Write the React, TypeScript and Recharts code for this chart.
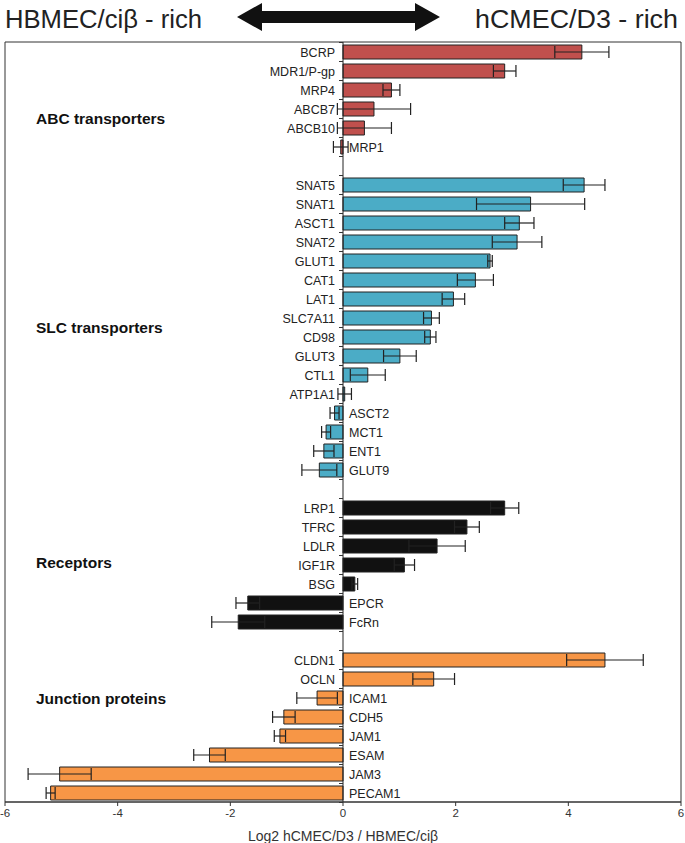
import React from "react";
import {
  BarChart,
  Bar,
  XAxis,
  YAxis,
  Cell,
  ErrorBar,
  LabelList,
  ReferenceLine,
  ReferenceArea,
} from "recharts";

// category order top -> bottom, blank entries are the gaps between groups
const names = [
  "BCRP", "MDR1/P-gp", "MRP4", "ABCB7", "ABCB10", "MRP1", " ",
  "SNAT5", "SNAT1", "ASCT1", "SNAT2", "GLUT1", "CAT1", "LAT1", "SLC7A11",
  "CD98", "GLUT3", "CTL1", "ATP1A1", "ASCT2", "MCT1", "ENT1", "GLUT9", "  ",
  "LRP1", "TFRC", "LDLR", "IGF1R", "BSG", "EPCR", "FcRn", "   ",
  "CLDN1", "OCLN", "ICAM1", "CDH5", "JAM1", "ESAM", "JAM3", "PECAM1",
];

const values = [
  4.24, 2.87, 0.86, 0.55, 0.38, -0.04, null,
  4.28, 3.33, 3.13, 3.09, 2.61, 2.35, 1.96, 1.57,
  1.55, 1.01, 0.44, 0.03, -0.15, -0.3, -0.34, -0.42, null,
  2.87, 2.2, 1.67, 1.09, 0.21, -1.69, -1.86, null,
  4.65, 1.61, -0.46, -1.05, -1.12, -2.37, -5.03, -5.19,
];

const errors = [
  0.48, 0.2, 0.15, 0.65, 0.48, 0.13, null,
  0.37, 0.96, 0.26, 0.44, 0.04, 0.32, 0.2, 0.14,
  0.1, 0.29, 0.31, 0.12, 0.08, 0.08, 0.18, 0.31, null,
  0.25, 0.22, 0.5, 0.18, 0.05, 0.21, 0.47, null,
  0.68, 0.37, 0.36, 0.2, 0.1, 0.28, 0.56, 0.08,
];

const groups = [
  "abc", "abc", "abc", "abc", "abc", "abc", "",
  "slc", "slc", "slc", "slc", "slc", "slc", "slc", "slc",
  "slc", "slc", "slc", "slc", "slc", "slc", "slc", "slc", "",
  "rec", "rec", "rec", "rec", "rec", "rec", "rec", "",
  "jun", "jun", "jun", "jun", "jun", "jun", "jun", "jun",
];

const groupColors: Record<string, string> = {
  abc: "#c0504d",
  slc: "#4bacc6",
  rec: "#111111",
  jun: "#f79646",
};

// group title, the category it sits next to, and its shift from that row
const groupTitles = [
  { title: "ABC transporters", at: "ABCB7", shift: 9.5 },
  { title: "SLC transporters", at: "SLC7A11", shift: 9.5 },
  { title: "Receptors", at: "IGF1R", shift: -2 },
  { title: "Junction proteins", at: "ICAM1", shift: 1 },
];

const xTicks = [-6, -4, -2, 0, 2, 4, 6];

const data = names.map((name, i) => ({
  name,
  value: values[i],
  err: errors[i],
  group: groups[i],
}));

const FONT = '"Liberation Sans", Arial, sans-serif';
const ROW = 19; // band height, used for the small ticks on the zero line

function NameLabel(props: any) {
  const { x, y, width, height, value } = props;
  const i = names.indexOf(value);
  const v = i >= 0 ? values[i] : null;
  if (v == null || !String(value).trim()) return null;
  const left = Math.min(x, x + width);
  const right = Math.max(x, x + width);
  const pos = v >= 0;
  const zero = pos ? left : right;
  const cy = y + height / 2;
  return (
    <g>
      <line x1={zero - 4} x2={zero} y1={cy - ROW / 2} y2={cy - ROW / 2} stroke="#333" />
      <line x1={zero - 4} x2={zero} y1={cy + ROW / 2} y2={cy + ROW / 2} stroke="#333" />
      <text
        x={pos ? zero - 8 : zero + 6}
        y={cy}
        dy="0.36em"
        textAnchor={pos ? "end" : "start"}
        fontSize={12.5}
        fontFamily={FONT}
        fill="#222"
      >
        {value}
      </text>
    </g>
  );
}

function GroupTitle(text: string, shift: number) {
  return (props: any) => {
    const vb = props.viewBox || {};
    return (
      <text
        x={(vb.x ?? 0) + 31}
        y={(vb.y ?? 0) + shift}
        dy="0.36em"
        fontSize={15.5}
        fontWeight="bold"
        fontFamily={FONT}
        fill="#111"
      >
        {text}
      </text>
    );
  };
}

function Header() {
  return (
    <svg width={685} height={40} style={{ position: "absolute", left: 0, top: 0 }}>
      <text x={5} y={28} fontSize={25} fontFamily={FONT} fill="#222" textLength={197} lengthAdjust="spacingAndGlyphs">
        HBMEC/ciβ - rich
      </text>
      <polygon
        points="237,17 262,3 262,11 415,11 415,3 440,17 415,31 415,23 262,23 262,31"
        fill="#111"
      />
      <text x={475} y={28} fontSize={25} fontFamily={FONT} fill="#222" textLength={203} lengthAdjust="spacingAndGlyphs">
        hCMEC/D3 - rich
      </text>
    </svg>
  );
}

export default function App() {
  return (
    <div style={{ position: "absolute", left: 0, top: 0, width: 685, height: 843, background: "#fff" }}>
      <Header />
      <BarChart
        layout="vertical"
        width={685}
        height={843}
        data={data}
        margin={{ top: 42, right: 4, left: 5, bottom: 0 }}
        barCategoryGap={2}
      >
        <XAxis
          type="number"
          domain={[-6, 6]}
          ticks={xTicks}
          tickSize={4}
          tickMargin={3}
          height={41}
          stroke="#333"
          tick={{ fontSize: 11.5, fill: "#333", fontFamily: FONT }}
          label={{
            value: "Log2 hCMEC/D3  / HBMEC/ciβ",
            position: "insideBottom",
            offset: 2,
            fontSize: 14,
            fill: "#333",
            fontFamily: FONT,
          }}
        />
        <YAxis type="category" dataKey="name" hide width={0} />
        <ReferenceArea x1={-6} x2={6} fill="none" stroke="#333" strokeWidth={1} />
        <ReferenceLine x={0} stroke="#222" strokeWidth={1} />
        {groupTitles.map((g) => (
          <ReferenceLine
            key={g.title}
            y={g.at}
            stroke="none"
            label={GroupTitle(g.title, g.shift)}
          />
        ))}
        <Bar dataKey="value" barSize={14} stroke="#222" strokeWidth={1} isAnimationActive={false}>
          {data.map((d, i) => (
            <Cell key={i} fill={groupColors[d.group] || "#fff"} />
          ))}
          <ErrorBar dataKey="err" direction="x" width={6} stroke="#222" strokeWidth={1.2} />
          <LabelList dataKey="name" content={NameLabel} />
        </Bar>
      </BarChart>
    </div>
  );
}
